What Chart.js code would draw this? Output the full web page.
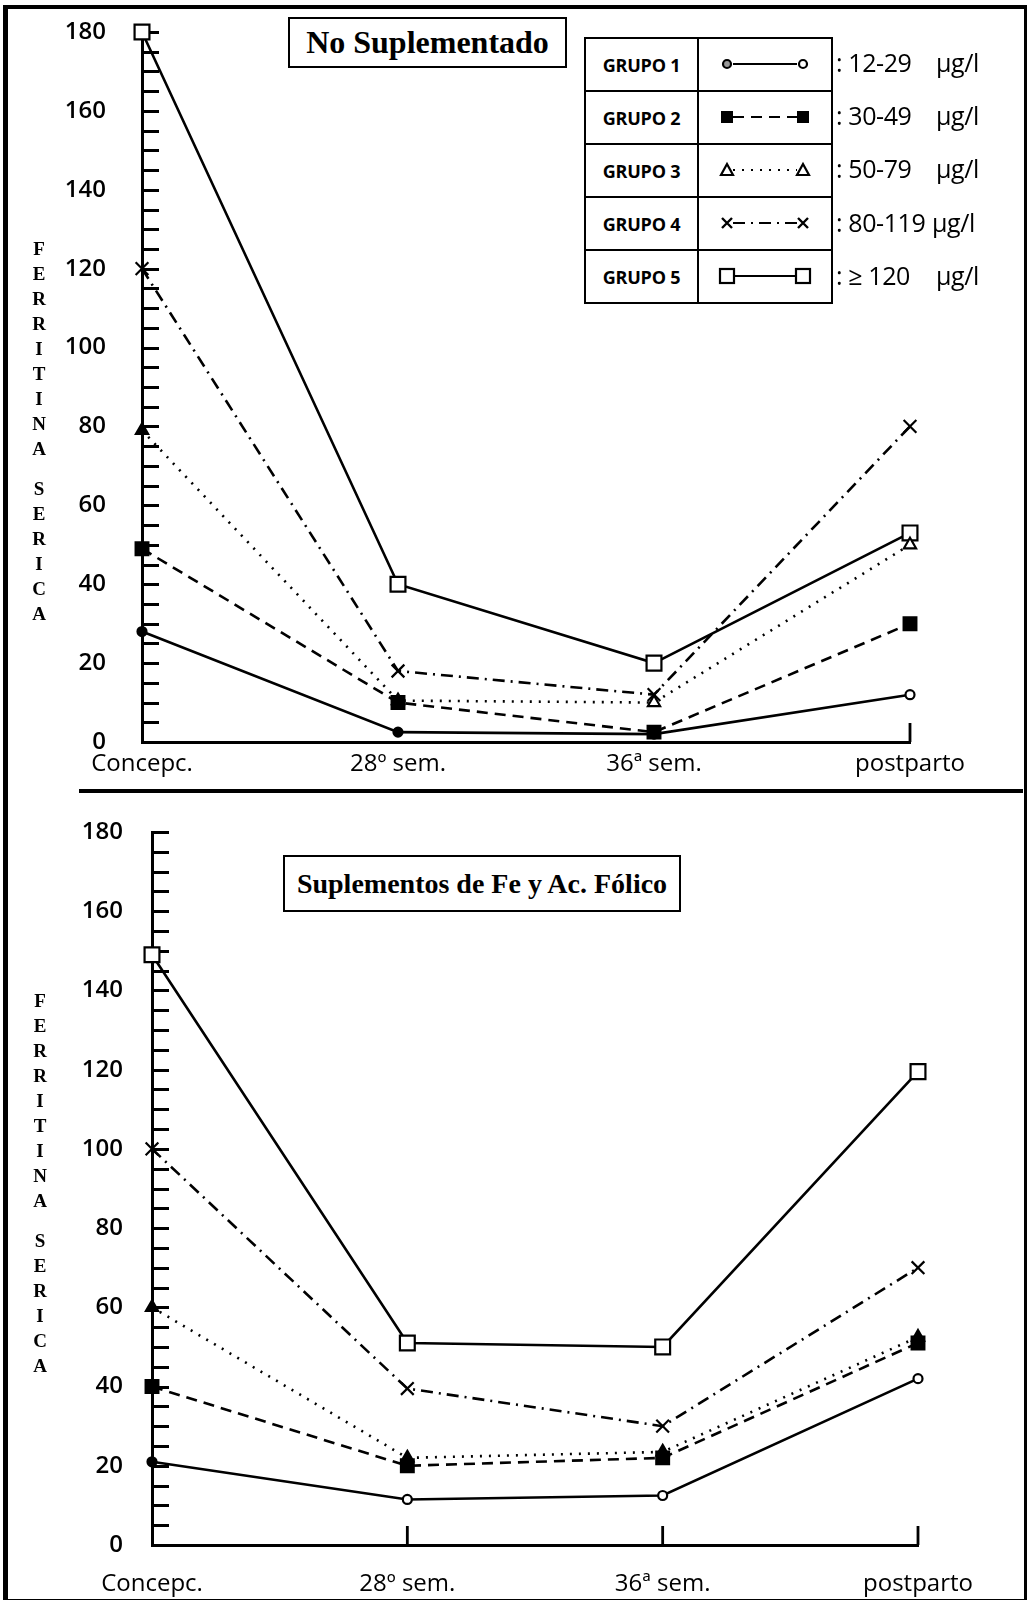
<!DOCTYPE html>
<html>
<head>
<meta charset="utf-8">
<script src="https://cdn.jsdelivr.net/npm/chart.js@4.4.1/dist/chart.umd.min.js"></script>
<style>
  body { margin: 0; background: #fff; width: 1028px; height: 1600px; position: relative; overflow: hidden; font-family: "Open Sans", sans-serif; color: #000; }
  canvas { position: absolute; left: 0; }
  .frame { position: absolute; left: 3px; top: 5px; width: 1016px; height: 1590px; border-left: 5px solid #000; border-top: 4px solid #000; border-right: 3px solid #000; border-bottom: 3px solid #000; }
  .sep { position: absolute; left: 79px; top: 789px; width: 944px; height: 4px; background: #000; }
  .title { position: absolute; border: 2px solid #000; background: #fff; font-family: "Liberation Serif", serif; font-weight: bold; display: flex; align-items: center; justify-content: center; box-sizing: border-box; z-index: 2; white-space: nowrap; }
  .ytitle { position: absolute; width: 30px; text-align: center; font-family: "Liberation Serif", serif; font-weight: bold; font-size: 19px; z-index: 2; }
  .ytitle div { height: 25px; line-height: 25px; }
  .legend { position: absolute; left: 584px; top: 37px; width: 247px; table-layout: fixed; border-collapse: collapse; z-index: 2; background: #fff; }
  .legend td { border: 2px solid #000; height: 51px; padding: 0; }
  .legend td.name { font-weight: bold; font-size: 18px; text-align: center; letter-spacing: -0.2px; }
  .legend svg { display: block; margin: 0 auto; }
  .range { position: absolute; font-size: 25px; letter-spacing: -0.4px; z-index: 2; white-space: nowrap; }
</style>
</head>
<body>
<div class="frame"></div>
<div class="sep"></div>
<canvas id="top" width="1028" height="790" style="top:0"></canvas>
<canvas id="bottom" width="1028" height="800" style="top:800px"></canvas>
<div class="title" style="left:288px; top:17px; width:279px; height:51px; font-size:32px;">No Suplementado</div>
<div class="title" style="left:283px; top:855px; width:398px; height:57px; font-size:28px;">Suplementos de Fe y Ac. Fólico</div>
<div id="legendBox"></div>
<div class="ytitle" id="yt1" style="left:24px; top:236px;"></div>
<div class="ytitle" id="yt2" style="left:25px; top:988px;"></div>
<script>
const periods = ["Concepc.", "28º sem.", "36ª sem.", "postparto"]
const groups = ["GRUPO 1", "GRUPO 2", "GRUPO 3", "GRUPO 4", "GRUPO 5"]
const ranges = [": 12-29", ": 30-49", ": 50-79", ": 80-119", ": ≥ 120"]
const yMax = 180
const yStep = 20

// No Suplementado
const noSupG1 = [28, 2.5, 2, 12]
const noSupG2 = [49, 10, 2.5, 30]
const noSupG3 = [79, 10.5, 10, 50]
const noSupG4 = [120, 18, 12, 80]
const noSupG5 = [180, 40, 20, 53]

// Suplementos de Fe y Ac. Fólico
const supG1 = [21, 11.5, 12.5, 42]
const supG2 = [40, 20, 22, 51]
const supG3 = [60, 22, 23.5, 52.5]
const supG4 = [100, 39.5, 30, 70]
const supG5 = [149, 51, 50, 119.5]

const W = "#fff"
const B = "#000"
const styles = [
  { dash: [], point: "circle", radius: 4.5, fill: W },
  { dash: [11, 7], point: "rect", radius: 9, fill: B },
  { dash: [2, 7], point: "triangle", radius: 7, fill: W },
  { dash: [12, 6, 2, 6], point: "crossRot", radius: 9, fill: W },
  { dash: [], point: "rect", radius: 10.5, fill: W },
]
// marker fills as printed (some markers are inked solid)
const topFills = [[B, B, B, W], [B, B, B, B], [B, W, W, W], [W, W, W, W], [W, W, W, W]]
const bottomFills = [[B, W, W, W], [B, B, B, B], [B, B, B, B], [W, W, W, W], [W, W, W, W]]

Chart.defaults.font.family = "Open Sans"
Chart.defaults.color = "#000"

const axisMarks = {
  id: "axisMarks",
  beforeDatasetsDraw(chart, args, opts) {
    const { ctx, chartArea, scales: { x, y } } = chart
    ctx.save()
    ctx.strokeStyle = "#000"
    ctx.lineWidth = 2.8
    ctx.beginPath()
    for (let v = 5; v <= yMax; v += 5) {
      const py = Math.round(y.getPixelForValue(v)) + 0.5
      ctx.moveTo(chartArea.left, py)
      ctx.lineTo(chartArea.left + 17, py)
    }
    opts.xMarks.forEach((i) => {
      const px = x.getPixelForValue(i)
      ctx.moveTo(px, chartArea.bottom)
      ctx.lineTo(px, chartArea.bottom - 19)
    })
    ctx.stroke()
    ctx.restore()
  },
}

const makeChart = (id, series, box) => {
  new Chart(document.getElementById(id), {
    type: "line",
    data: {
      labels: periods,
      datasets: series.map((values, i) => ({
        label: groups[i],
        data: values,
        borderColor: "#000",
        borderWidth: 2.6,
        borderDash: styles[i].dash,
        pointStyle: styles[i].point,
        pointRadius: styles[i].radius,
        pointBorderWidth: 2.2,
        pointBorderColor: "#000",
        pointBackgroundColor: box.fills[i],
        tension: 0,
        clip: false,
      })),
    },
    options: {
      responsive: false,
      animation: false,
      events: [],
      layout: { padding: { left: 0, right: box.right, top: box.top, bottom: 0 } },
      plugins: { legend: { display: false }, tooltip: { enabled: false }, axisMarks: { xMarks: box.xMarks } },
      scales: {
        x: {
          type: "category",
          offset: false,
          grid: { display: false, drawTicks: false },
          border: { display: true, color: "#000", width: 3 },
          ticks: { padding: box.xPad, maxRotation: 0, autoSkip: false, font: { size: 24, weight: "500" } },
          afterFit: (scale) => { scale.height = box.xHeight },
        },
        y: {
          min: 0,
          max: yMax,
          grid: { display: false, drawTicks: false },
          border: { display: true, color: "#000", width: 3 },
          ticks: { stepSize: yStep, padding: box.yPad, font: { size: 24, weight: "600" } },
          afterFit: (scale) => {
            scale.width = box.left
            scale.paddingTop = 0
            scale.paddingBottom = 0
          },
        },
      },
    },
    plugins: [axisMarks],
  })
}

makeChart("top", [noSupG1, noSupG2, noSupG3, noSupG4, noSupG5], {
  left: 142, right: 118, top: 32, xHeight: 48, xPad: 8, yPad: 36, xMarks: [3], fills: topFills,
})
makeChart("bottom", [supG1, supG2, supG3, supG4, supG5], {
  left: 152, right: 110, top: 32, xHeight: 55, xPad: 25, yPad: 29, xMarks: [1, 2, 3], fills: bottomFills,
})

// legend table with line samples
const sample = (s) => {
  const dash = s.dash.length ? `stroke-dasharray="${s.dash.join(" ")}"` : ""
  let mk = ""
  ;[28, 104].forEach((cx, k) => {
    if (s.point === "circle") mk += `<circle cx="${cx}" cy="25" r="4" fill="${k ? W : B}" fill-opacity="${k ? 1 : 0.4}" stroke="#000" stroke-width="2.2"/>`
    if (s.point === "rect") mk += s.fill === B
      ? `<rect x="${cx - 6}" y="19" width="12" height="12" fill="#000"/>`
      : `<rect x="${cx - 7}" y="18" width="14" height="14" fill="#fff" stroke="#000" stroke-width="2.2"/>`
    if (s.point === "triangle") mk += `<polygon points="${cx},19 ${cx + 6},30 ${cx - 6},30" fill="#fff" stroke="#000" stroke-width="2.2"/>`
    if (s.point === "crossRot") mk += `<path d="M${cx - 5} 20 L${cx + 5} 30 M${cx + 5} 20 L${cx - 5} 30" stroke="#000" stroke-width="2.4"/>`
  })
  return `<svg width="132" height="51"><line x1="34" y1="25" x2="98" y2="25" stroke="#000" stroke-width="2.2" ${dash}/>${mk}</svg>`
}
let rows = ""
groups.forEach((g, i) => {
  rows += `<tr><td class="name">${g}</td><td class="mark">${sample(styles[i])}</td></tr>`
})
document.getElementById("legendBox").innerHTML =
  `<table class="legend"><colgroup><col style="width:113px"><col style="width:134px"></colgroup>${rows}</table>` +
  ranges.map((r, i) => `<div class="range" style="left:836px; top:${45 + i * 53.2}px">${r}</div>` +
    `<div class="range" style="left:${i === 3 ? 932 : 936}px; top:${45 + i * 53.2}px">µg/l</div>`).join("")

const stack = (el, words) => {
  document.getElementById(el).innerHTML = words.map((w) => w.split("").map((c) => `<div>${c}</div>`).join("")).join('<div style="height:15px"></div>')
}
stack("yt1", ["FERRITINA", "SERICA"])
stack("yt2", ["FERRITINA", "SERICA"])
</script>
</body>
</html>
